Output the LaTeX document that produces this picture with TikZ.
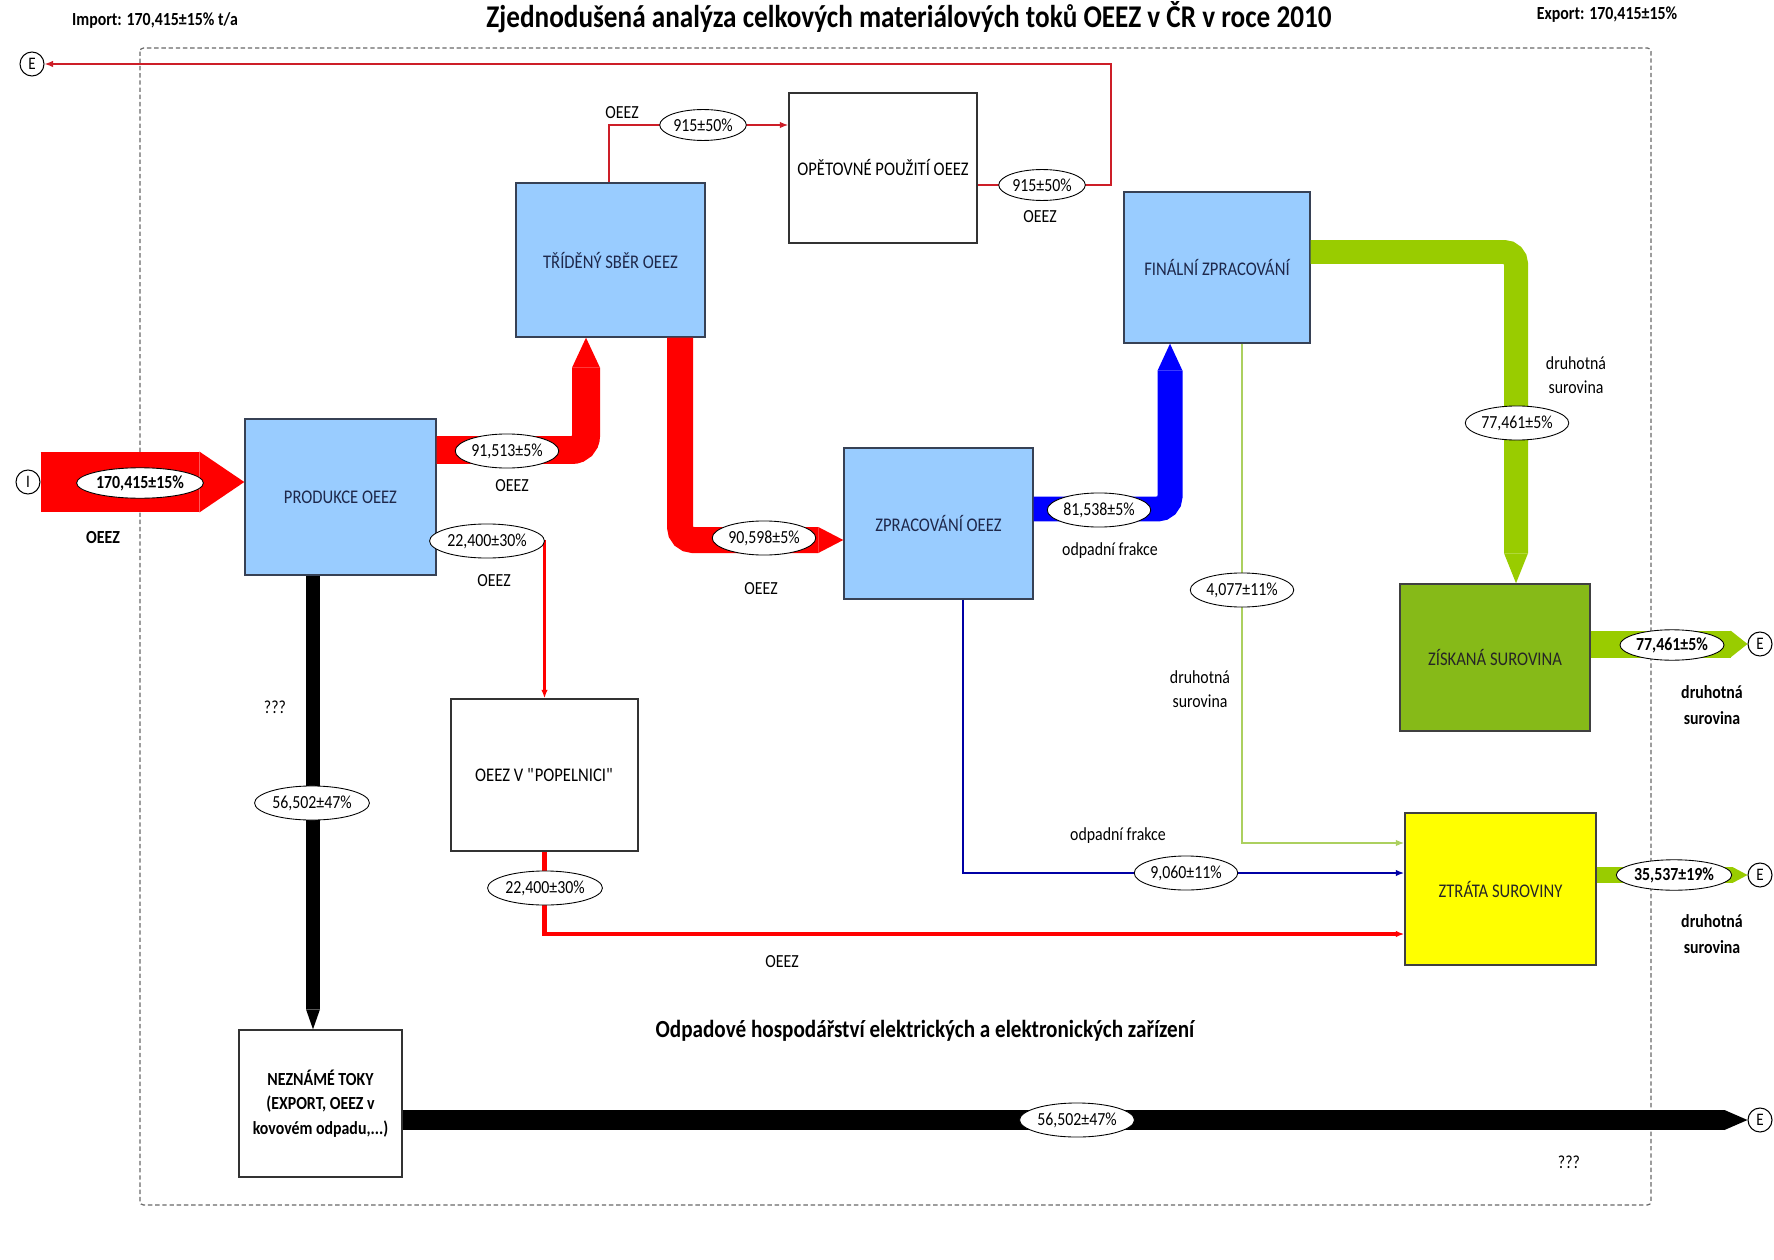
\documentclass[tikz,border=0pt]{standalone}
\usepackage{fontspec}
\setmainfont{Carlito}[FakeStretch=0.86]
\usetikzlibrary{arrows.meta,shapes.geometric}

\definecolor{boxblue}{RGB}{153,204,255}
\definecolor{boxedge}{RGB}{55,65,85}
\definecolor{boxtext}{RGB}{30,40,75}
\definecolor{flowred}{RGB}{255,0,0}
\definecolor{finered}{RGB}{205,30,40}
\definecolor{flowblue}{RGB}{0,0,255}
\definecolor{linkblue}{RGB}{0,0,165}
\definecolor{flowgreen}{RGB}{153,204,0}
\definecolor{linkgreen}{RGB}{172,208,95}
\definecolor{boxgreen}{RGB}{134,186,24}
\definecolor{boxyellow}{RGB}{255,255,0}
\definecolor{framegray}{RGB}{105,105,105}

\tikzset{
  sz/.style 2 args={minimum width=#1*0.02cm, minimum height=#2*0.02cm},
  proc/.style={draw=boxedge, line width=0.8pt, fill=boxblue, text=boxtext, font=\fontsize{11}{13}\selectfont},
  store/.style={draw=black!80, line width=0.8pt, fill=white, font=\fontsize{11}{13}\selectfont},
  term/.style={circle, draw, line width=0.6pt, minimum size=24*0.02cm, inner sep=0pt, font=\fontsize{10}{12}\selectfont},
  val/.style={ellipse, draw, fill=white, line width=0.5pt, inner xsep=0.5pt, inner ysep=2.6pt, font=\fontsize{10.5}{12}\selectfont},
  valb/.style={val, inner ysep=1.8pt, font=\bfseries\fontsize{10.5}{12}\selectfont},
  lab/.style={align=center, font=\fontsize{10.5}{14}\selectfont},
  labb/.style={align=center, font=\bfseries\fontsize{10.5}{14.5}\selectfont},
  band/.style n args={3}{draw=#3, line width=#1, -{Triangle[length=#2, width=#1, line width=0pt]}},
  tipline/.style={-{Latex[length=0.17cm, width=0.13cm]}},
  frame/.style={draw=framegray, line width=0.7pt, dash pattern=on 2.5pt off 1.6pt, rounded corners=2pt}
}

\begin{document}
\begin{tikzpicture}[x=0.02cm,y=-0.02cm]
	\useasboundingbox (0,0) rectangle (1774,1260);
	\draw[frame] (140,48) rectangle (1651,1205);

	% processes
	\node[proc, sz={191}{156}] (prod) at (340.5,497) {PRODUKCE OEEZ};
	\node[proc, sz={189}{154}] (trid) at (610.5,260) {TŘÍDĚNÝ SBĚR OEEZ};
	\node[store, sz={188}{150}] (opet) at (883,168) {OPĚTOVNÉ POUŽITÍ OEEZ};
	\node[proc, sz={189}{151}] (zprac) at (938.5,523.5) {ZPRACOVÁNÍ OEEZ};
	\node[proc, sz={186}{151}] (fin) at (1217,267.5) {FINÁLNÍ ZPRACOVÁNÍ};
	\node[proc, sz={190}{147}, fill=boxgreen, draw=black!75, text=black!85] (zisk) at (1495,657.5) {ZÍSKANÁ SUROVINA};
	\node[proc, sz={191}{152}, fill=boxyellow, draw=black!75, text=black!85] (ztrata) at (1500.5,889) {ZTRÁTA SUROVINY};
	\node[store, sz={187}{152}] (popel) at (544.5,775) {OEEZ V \textquotedbl POPELNICI\textquotedbl};
	\node[store, sz={163}{147}, align=center, font=\bfseries\fontsize{10.5}{14}\selectfont] (nezn) at (320.5,1103.5) {NEZNÁMÉ TOKY\\(EXPORT, OEEZ v\\kovovém odpadu,...)};

	% import / export ends
	\node[term] (imp) at (28,482) {I};
	\node[term] (eout) at (32,64) {E};
	\node[term] (e77) at (1760,644) {E};
	\node[term] (e35) at (1760,875) {E};
	\node[term] (e56) at (1760,1120) {E};

	% bend points
	\coordinate (k91) at (586,450);
	\coordinate (k90) at (680,540);
	\coordinate (k22) at (544.5,541);
	\coordinate (k22b) at (544.5,934);
	\coordinate (k915a) at (609,125);
	\coordinate (k915b) at (1111,185);
	\coordinate (k81) at (1170,509);
	\coordinate (k77) at (1516,252);
	\coordinate (k40) at (1242,843);
	\coordinate (k906) at (963,873);
	\coordinate (k56) at (313,800);

	% flows
	\draw[band={1.22cm}{0.9cm}{flowred}] (imp.east) -- (prod.west |- imp);
	\draw[band={0.56cm}{0.6cm}{flowred}, rounded corners=0.28cm] (prod.east |- k91) -- (k91) -- (trid.south -| k91);
	\draw[band={0.52cm}{0.5cm}{flowred}, rounded corners=0.26cm] (trid.south -| k90) -- (k90) -- (zprac.west |- k90);
	\draw[flowred, line width=1.7pt, tipline] (prod.east |- k22) -- (k22) -- (popel.north);
	\draw[flowred, line width=2.3pt, tipline] (popel.south) -- (k22b) -- (ztrata.west |- k22b);
	\draw[finered, line width=0.8pt, tipline] (trid.north -| k915a) -- (k915a) -- (opet.west |- k915a);
	\draw[finered, line width=0.8pt, tipline] (opet.east |- k915b) -- (k915b) -- (k915b |- eout) -- (eout.east);
	\draw[band={0.5cm}{0.54cm}{flowblue}, rounded corners=0.25cm] (zprac.east |- k81) -- (k81) -- (fin.south -| k81);
	\draw[band={0.48cm}{0.6cm}{flowgreen}, rounded corners=0.24cm] (fin.east |- k77) -- (k77) -- (zisk.north -| k77);
	\draw[linkgreen, line width=0.8pt, tipline] (fin.south -| k40) -- (k40) -- (ztrata.west |- k40);
	\draw[linkblue, line width=1.2pt, tipline] (zprac.south -| k906) -- (k906) -- (ztrata.west |- k906);
	\draw[band={0.28cm}{0.4cm}{black}] (prod.south -| k56) -- (nezn.north -| k56);
	\draw[band={0.4cm}{0.46cm}{black}] (nezn.east |- e56) -- (e56.west);
	\draw[band={0.54cm}{0.34cm}{flowgreen}] (zisk.east |- e77) -- (e77.west);
	\draw[band={0.32cm}{0.3cm}{flowgreen}] (ztrata.east |- e35) -- (e35.west);

	% values
	\node[valb] (vimp) at (140,483) {170,415±15\%};
	\node[val] (v915a) at (703,125) {915±50\%};
	\node[val] (v915b) at (1042,185) {915±50\%};
	\node[val] (v91) at (507,451) {91,513±5\%};
	\node[val] (v22a) at (487,541) {22,400±30\%};
	\node[val] (v90) at (764,538) {90,598±5\%};
	\node[val] (v22b) at (545,888) {22,400±30\%};
	\node[val] (v56a) at (312,803) {56,502±47\%};
	\node[val] (v56b) at (1077,1120) {56,502±47\%};
	\node[val] (v81) at (1099,510) {81,538±5\%};
	\node[val] (v77a) at (1517,423) {77,461±5\%};
	\node[val] (v40) at (1242,590) {4,077±11\%};
	\node[val] (v906) at (1186,873) {9,060±11\%};
	\node[valb] (v77b) at (1672,645) {77,461±5\%};
	\node[valb] (v35) at (1674,875) {35,537±19\%};

	% texts
	\node[anchor=base, font=\bfseries\fontsize{18}{20}\selectfont] (title) at (909,28) {Zjednodušená analýza celkových materiálových toků OEEZ v ČR v roce 2010};
	\node[labb] (imptxt) at (155,20) {Import: 170,415±15\% t/a};
	\node[labb] (exptxt) at (1607,15) {Export: 170,415±15\%};
	\node[labb] (limp) at (103,538) {OEEZ};
	\node[lab] (l915a) at (622,113) {OEEZ};
	\node[lab] (l915b) at (1040,217) {OEEZ};
	\node[lab] (l91) at (512,486) {OEEZ};
	\node[lab] (l22a) at (494,581) {OEEZ};
	\node[lab] (l90) at (761,589) {OEEZ};
	\node[lab] (l22b) at (782,962) {OEEZ};
	\node[lab] (q56a) at (275,707) {???};
	\node[lab] (q56b) at (1569,1162) {???};
	\node[lab] (l81) at (1110,551) {odpadní frakce};
	\node[lab] (l906) at (1118,836) {odpadní frakce};
	\node[lab] (l77a) at (1576,375) {druhotná\\surovina};
	\node[lab] (l40) at (1200,689) {druhotná\\surovina};
	\node[labb] (l77b) at (1712,705) {druhotná\\surovina};
	\node[labb] (l35) at (1712,934) {druhotná\\surovina};
	\node[font=\bfseries\fontsize{14}{16}\selectfont] (odpad) at (925,1031) {Odpadové hospodářství elektrických a elektronických zařízení};
\end{tikzpicture}
\end{document}
